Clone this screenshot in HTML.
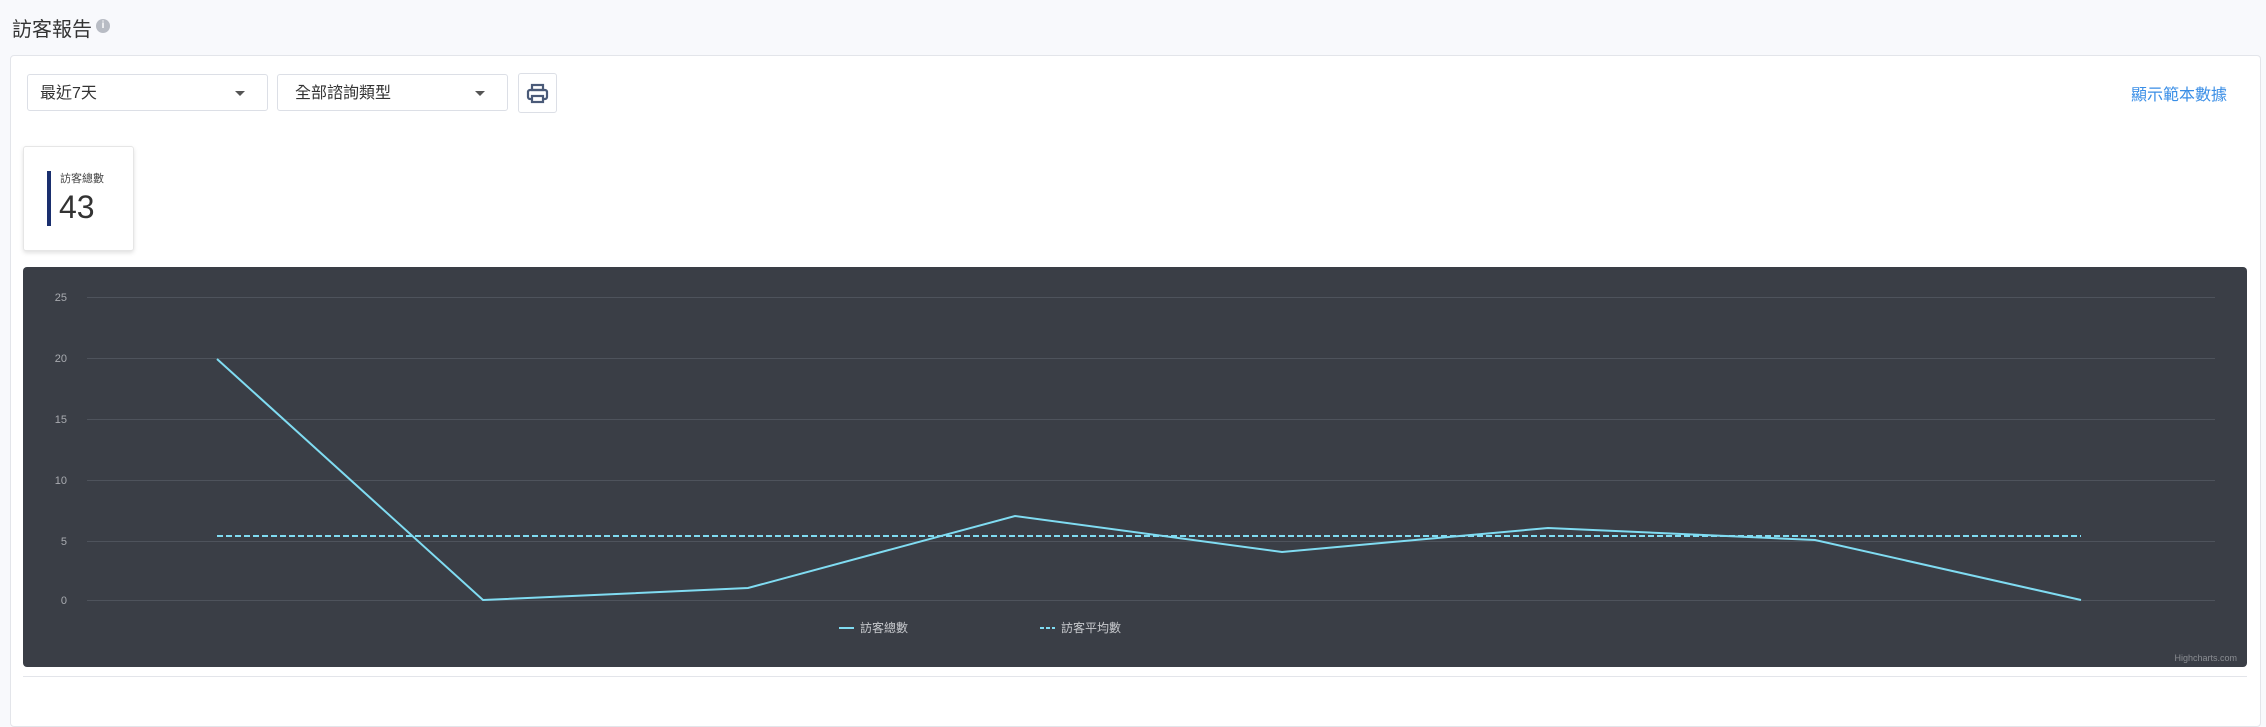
<!DOCTYPE html>
<html><head><meta charset="utf-8">
<style>
body{margin:0;width:2266px;height:710px;background:#f8f9fc;font-family:"Liberation Sans","Noto Sans CJK TC",sans-serif;position:relative;overflow:hidden}
.abs{position:absolute}
.title{left:12px;top:13px;font-size:20px;color:#333}
.info{left:96px;top:19px;width:14px;height:14px;border-radius:50%;background:#b8bcc4;color:#fff;font-size:10px;text-align:center;line-height:14px;font-weight:bold}
.card{left:10px;top:55px;width:2249px;height:670px;background:#fff;border:1px solid #e3e5ea;border-radius:4px}
.sel{top:74px;height:37px;border:1px solid #dcdfe6;border-radius:3px;background:#fff;font-size:16px;color:#333;line-height:37px;box-sizing:border-box;padding-left:12px}
.sel:after{content:"";position:absolute;right:22px;top:16px;border-left:5px solid transparent;border-right:5px solid transparent;border-top:5px solid #555}
.stat{left:23px;top:146px;width:109px;height:103px;background:#fff;border:1px solid #e6e6e6;border-radius:3px;box-shadow:0 2px 4px rgba(0,0,0,.12)}
</style></head><body>
<div class="abs title">訪客報告</div>
<div class="abs info">i</div>
<div class="abs card"></div>
<div class="abs sel" style="left:27px;width:241px">最近7天</div>
<div class="abs sel" style="left:277px;width:231px;padding-left:17px">全部諮詢類型</div>
<div class="abs" style="left:518px;top:73px;width:39px;height:40px;border:1px solid #dcdfe6;border-radius:3px;box-sizing:border-box;background:#fff">
<svg width="37" height="38" viewBox="0 0 37 38"><g fill="none" stroke="#4a5a78" stroke-width="2.2"><rect x="13" y="11" width="11" height="5"/><rect x="9" y="16" width="19" height="9" rx="2"/><rect x="13" y="22" width="11" height="6" fill="#fff"/></g></svg></div>
<div class="abs" style="left:2131px;top:81px;font-size:16px;color:#3a8ee6">顯示範本數據</div>
<div class="abs stat"></div>
<div class="abs" style="left:47px;top:171px;width:4px;height:55px;background:#1a2f6e"></div>
<div class="abs" style="left:60px;top:170px;font-size:11px;color:#444">訪客總數</div>
<div class="abs" style="left:59px;top:189px;font-size:32px;color:#333">43</div>
<svg class="abs" style="left:23px;top:267px" width="2224" height="400" viewBox="23 267 2224 400">
<rect x="23" y="267" width="2224" height="400" rx="4" fill="#3a3e46"/>
<g stroke="#4e535c" stroke-width="1">
<line x1="87" x2="2215" y1="297.5" y2="297.5"/><line x1="87" x2="2215" y1="358.5" y2="358.5"/><line x1="87" x2="2215" y1="419.5" y2="419.5"/><line x1="87" x2="2215" y1="480.5" y2="480.5"/><line x1="87" x2="2215" y1="541.5" y2="541.5"/><line x1="87" x2="2215" y1="600.5" y2="600.5"/>
</g>
<g fill="#a8abb0" font-size="11" text-anchor="end" font-family="Liberation Sans,sans-serif">
<text x="67" y="301">25</text><text x="67" y="362">20</text><text x="67" y="423">15</text><text x="67" y="484">10</text><text x="67" y="545">5</text><text x="67" y="604">0</text>
</g>
<line x1="217" x2="2081" y1="536" y2="536" stroke="#80dcf2" stroke-width="2" stroke-dasharray="6,3"/>
<polyline fill="none" stroke="#80dcf2" stroke-width="2" points="217,359 483,600 748,588 1015,516 1282,552 1548,528 1815,540 2081,600"/>
<line x1="839" x2="854" y1="628" y2="628" stroke="#80dcf2" stroke-width="2"/>
<text x="860" y="632" fill="#c8cace" font-size="12" font-family="Liberation Sans,Noto Sans CJK TC,sans-serif">訪客總數</text>
<line x1="1040" x2="1055" y1="628" y2="628" stroke="#80dcf2" stroke-width="2" stroke-dasharray="4,2"/>
<text x="1061" y="632" fill="#c8cace" font-size="12" font-family="Liberation Sans,Noto Sans CJK TC,sans-serif">訪客平均數</text>
<text x="2237" y="661" fill="#8a8d92" font-size="9" text-anchor="end" font-family="Liberation Sans,sans-serif">Highcharts.com</text>
</svg>
<div class="abs" style="left:23px;top:676px;width:2224px;height:1px;background:#e3e5ea"></div>
</body></html>
